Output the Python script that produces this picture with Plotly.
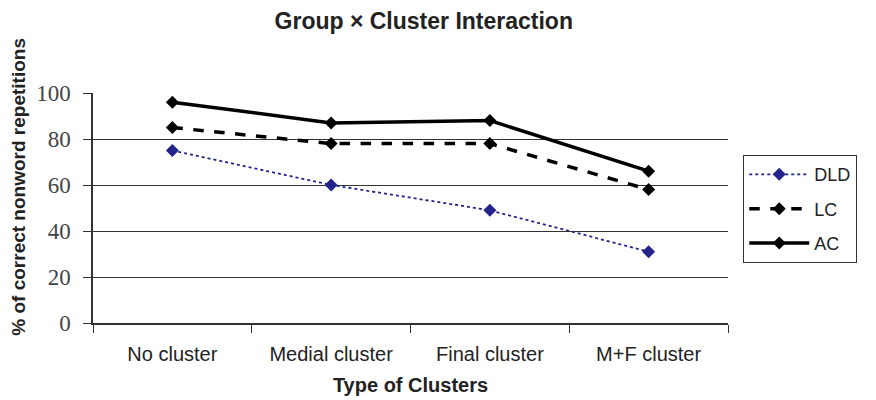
import plotly.graph_objects as go

categories = ["No cluster", "Medial cluster", "Final cluster", "M+F cluster"]
dld = [75, 60, 49, 31]
lc = [85, 78, 78, 58]
ac = [96, 87, 88, 66]
y_ticks = [0, 20, 40, 60, 80, 100]

fig = go.Figure()
fig.add_trace(go.Scatter(x=categories, y=dld, name="DLD", mode="lines+markers", legendgroup="a",
                         line=dict(color="#23238C", width=1.8, dash="dot"),
                         marker=dict(symbol="diamond", size=10, color="#23238C")))
fig.add_trace(go.Scatter(x=categories, y=lc, name="LC", mode="lines+markers", legendgroup="b",
                         line=dict(color="black", width=3.5, dash="dash"),
                         marker=dict(symbol="diamond", size=10, color="black")))
fig.add_trace(go.Scatter(x=categories, y=ac, name="AC", mode="lines+markers", legendgroup="c",
                         line=dict(color="black", width=3.5),
                         marker=dict(symbol="diamond", size=10, color="black")))

fig.update_layout(
    width=868, height=392,
    margin=dict(l=85, r=148, t=85, b=77),
    paper_bgcolor="white", plot_bgcolor="white",
    title=dict(text="<b>Group × Cluster Interaction</b>", x=0.479, xanchor="center",
               y=1, yref="container", yanchor="top", pad=dict(t=5),
               font=dict(family="Liberation Sans, Arial", size=23, color="#222")),
    showlegend=True,
    legend=dict(x=1.024, y=0.73, xanchor="left", yanchor="top",
                bordercolor="#333", borderwidth=1, bgcolor="white",
                font=dict(family="Liberation Sans, Arial", size=18, color="#222"),
                tracegroupgap=8, itemwidth=60),
    xaxis=dict(type="category", range=[-0.5, 3.5], tickson="boundaries", ticks="outside", ticklen=8,
               tickcolor="#333", showline=True, linecolor="#333", linewidth=1.5,
               showgrid=False, zeroline=False, ticklabelstandoff=12, automargin=False,
               tickfont=dict(family="Liberation Sans, Arial", size=20, color="#222"),
               title=dict(text="<b>Type of Clusters</b>", standoff=14,
                          font=dict(family="Liberation Sans, Arial", size=20, color="#222"))),
    yaxis=dict(range=[0, 100], tickvals=y_ticks, ticks="outside", ticklen=8,
               tickcolor="#333", showline=True, linecolor="#333", linewidth=1.5,
               showgrid=True, gridcolor="#333", gridwidth=1, zeroline=False, ticklabelstandoff=8,
               automargin=False,
               tickfont=dict(family="Liberation Serif, Times New Roman", size=23, color="#444"),
               title=dict(text="&nbsp;" * 8 + "<b>% of correct nonword repetitions</b>", standoff=6,
                          font=dict(family="Liberation Sans, Arial", size=19, color="#222"))),
)

fig.write_html("out.html")
